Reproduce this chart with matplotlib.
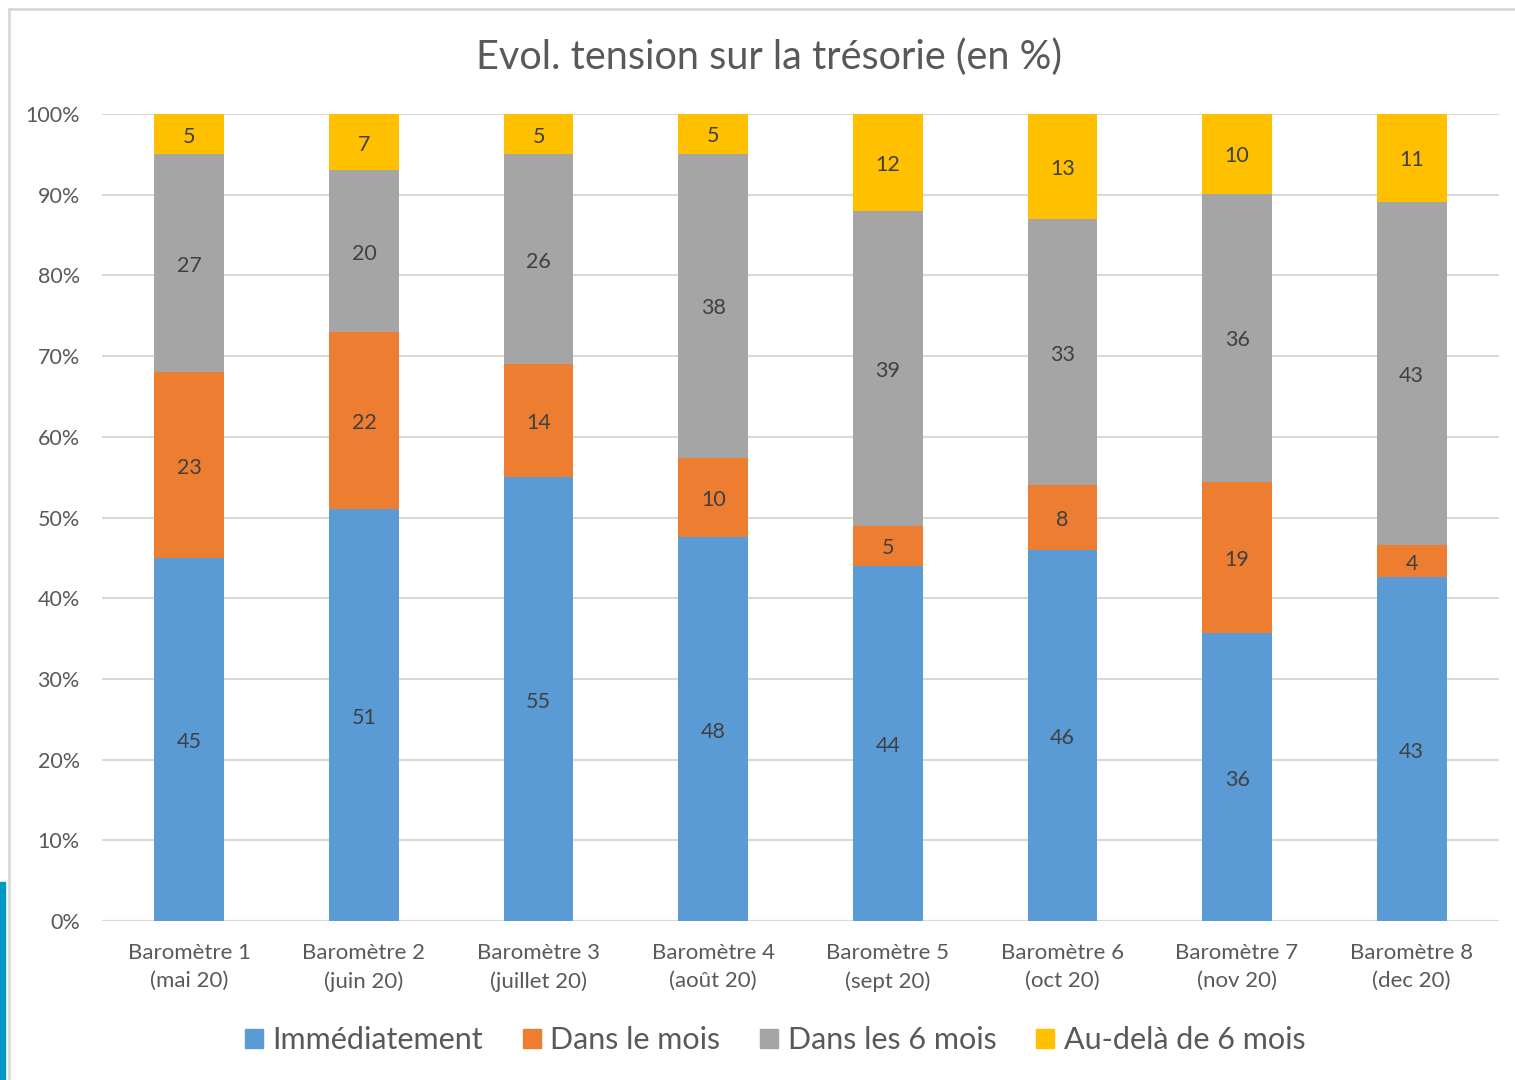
import matplotlib
matplotlib.use("Agg")
import matplotlib.pyplot as plt
from matplotlib.patches import Rectangle
from matplotlib.lines import Line2D
import numpy as np

categories = ["Baromètre 1\n(mai 20)", "Baromètre 2\n(juin 20)", "Baromètre 3\n(juillet 20)",
              "Baromètre 4\n(août 20)", "Baromètre 5\n(sept 20)", "Baromètre 6\n(oct 20)",
              "Baromètre 7\n(nov 20)", "Baromètre 8\n(dec 20)"]
immediatement = [45, 51, 55, 48, 44, 46, 36, 43]
dans_le_mois = [23, 22, 14, 10, 5, 8, 19, 4]
dans_6_mois = [27, 20, 26, 38, 39, 33, 36, 43]
au_dela = [5, 7, 5, 5, 12, 13, 10, 11]
series_names = ["Immédiatement", "Dans le mois", "Dans les 6 mois", "Au-delà de 6 mois"]
colors = ["#5b9bd5", "#ed7d31", "#a5a5a5", "#ffc000"]
yticks = [0, 10, 20, 30, 40, 50, 60, 70, 80, 90, 100]

plt.rcParams['font.family'] = ['Lato', 'DejaVu Sans']

fig = plt.figure(figsize=(15.15, 10.8), dpi=100)
ax = fig.add_axes([102/1515, 1-921/1080, (1499-102)/1515, (921-114)/1080])

series = [immediatement, dans_le_mois, dans_6_mois, au_dela]
data = np.array(series, dtype=float)
totals = data.sum(axis=0)
pct = data / totals * 100
x = np.arange(len(categories))
bottom = np.zeros(len(categories))
for i, (vals, p) in enumerate(zip(series, pct)):
    ax.bar(x, p, bottom=bottom, width=0.40, color=colors[i], zorder=3, label=series_names[i])
    for xi, b, h, v in zip(x, bottom, p, vals):
        ax.annotate(str(v), (xi, b + h / 2), xytext=(0, -2.5), textcoords="offset pixels",
                    ha="center", va="center", fontsize=15.5, color="#404040", zorder=4)
    bottom += p

ax.set_xlim(-0.5, len(categories) - 0.5)
ax.set_ylim(0, 100)
ax.set_yticks(yticks)
ax.set_yticklabels([f"{t}%" for t in yticks], fontsize=15.5, color="#595959")
ax.set_xticks(x)
ax.set_xticklabels(categories, fontsize=16, color="#595959", linespacing=1.5)
ax.tick_params(axis="both", length=0)
ax.tick_params(axis="y", pad=16)
ax.tick_params(axis="x", pad=16)
ax.yaxis.grid(True, color="#d9d9d9", linewidth=1.5, zorder=0)
for s in ax.spines.values():
    s.set_visible(False)
ax.axhline(0, color="#d9d9d9", linewidth=1.5, zorder=2)

fig.text(769/1515, 1-57/1080, "Evol. tension sur la trésorie (en %)", ha="center", va="center",
         fontsize=28.5, color="#595959")

handles = [Rectangle((0, 0), 1, 1, color=c) for c in colors]
leg = fig.legend(handles, series_names, loc="center", bbox_to_anchor=(775/1515, 1-1040/1080),
                 ncol=4, frameon=False, fontsize=22, handlelength=0.6, handleheight=0.6,
                 handletextpad=0.3, columnspacing=1.3)
for t in leg.get_texts():
    t.set_color("#595959")

# chart frame and left accent stripe
fig.add_artist(Line2D([9/1515, 9/1515], [0, 1-9/1080], transform=fig.transFigure, color="#d9d9d9", linewidth=2))
fig.add_artist(Line2D([9/1515, 1], [1-9/1080, 1-9/1080], transform=fig.transFigure, color="#d9d9d9", linewidth=2))
fig.add_artist(Rectangle((0, 0), 5/1515, (1080-882)/1080, transform=fig.transFigure, color="#0099c4"))

fig.savefig("out.png", dpi=100)
